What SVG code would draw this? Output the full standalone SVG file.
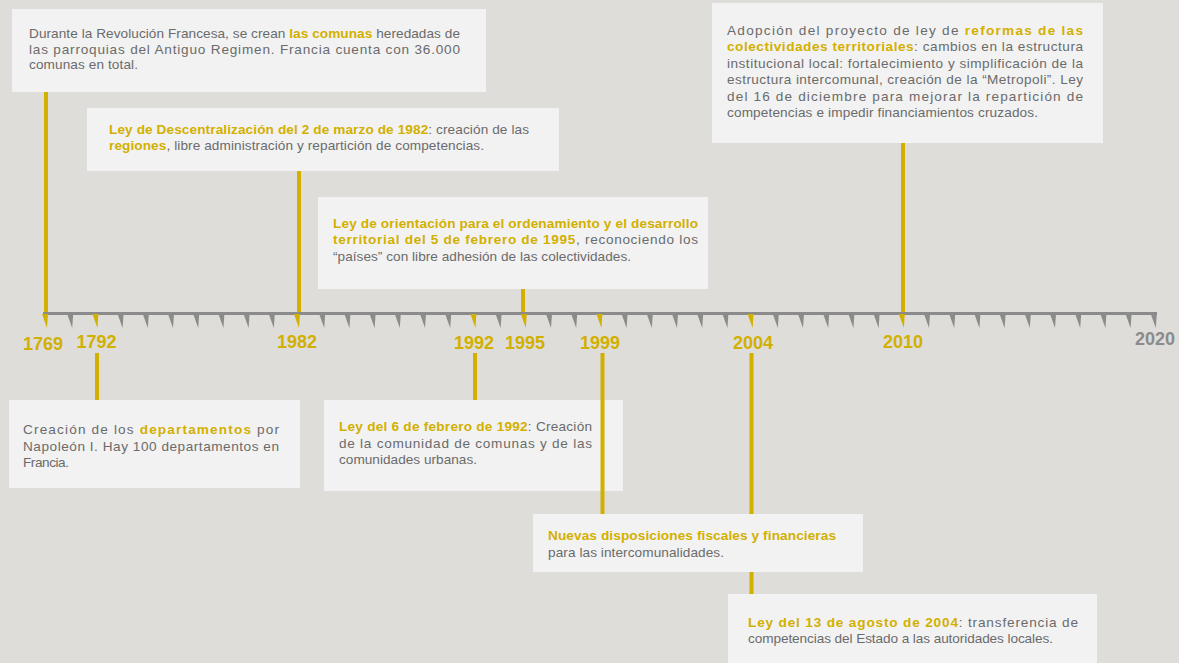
<svg xmlns="http://www.w3.org/2000/svg" width="1179" height="663" viewBox="0 0 1179 663">
<style>
.box{fill:#F2F2F2}
.t{font-family:"Liberation Sans",Arial,sans-serif;font-size:13.6px;fill:#6B6B6B}
.b{font-weight:bold;fill:#D2B000}
.yr{font-family:"Liberation Sans",Arial,sans-serif;font-size:18px;font-weight:bold;fill:#D2B000;text-anchor:middle}
.vl{stroke:#D2B000;stroke-width:4}
.tk{fill:#8B8B8B}
.tky{fill:#D2B000}
</style>
<defs>
<polygon id="tick" points="-4,314 2,314 1,328"/>
</defs>
<rect x="0" y="0" width="1179" height="663" fill="#DEDDD9"/>

<g id="node-1992">
<rect class="box" x="324" y="400" width="299" height="91"/>
<text class="t" x="339" y="431" textLength="253" lengthAdjust="spacing"><tspan class="b">Ley del 6 de febrero de 1992</tspan>: Creación</text>
<text class="t" x="339" y="448" textLength="253" lengthAdjust="spacing">de la comunidad de comunas y de las</text>
<text class="t" x="339" y="464" textLength="138" lengthAdjust="spacing">comunidades urbanas.</text>
</g>

<g id="connectors">
<line class="vl" x1="46" y1="92" x2="46" y2="313"/>
<line class="vl" x1="97" y1="353" x2="97" y2="400"/>
<line class="vl" x1="299" y1="171" x2="299" y2="313"/>
<line class="vl" x1="475" y1="353" x2="475" y2="400"/>
<line class="vl" x1="523" y1="289" x2="523" y2="313"/>
<line class="vl" x1="602.5" y1="353" x2="602.5" y2="514"/>
<line class="vl" x1="751.5" y1="353" x2="751.5" y2="594"/>
<line class="vl" x1="903" y1="143" x2="903" y2="313"/>
</g>

<g id="axis">
<rect x="43" y="312" width="1114" height="3" fill="#8B8B8B"/>
<use href="#tick" class="tky" x="46"/>
<use href="#tick" class="tk" x="71.2"/>
<use href="#tick" class="tky" x="96.4"/>
<use href="#tick" class="tk" x="121.6"/>
<use href="#tick" class="tk" x="146.8"/>
<use href="#tick" class="tk" x="172"/>
<use href="#tick" class="tk" x="197.2"/>
<use href="#tick" class="tk" x="222.4"/>
<use href="#tick" class="tk" x="247.6"/>
<use href="#tick" class="tk" x="272.8"/>
<use href="#tick" class="tky" x="298"/>
<use href="#tick" class="tk" x="323.2"/>
<use href="#tick" class="tk" x="348.4"/>
<use href="#tick" class="tk" x="373.6"/>
<use href="#tick" class="tk" x="398.8"/>
<use href="#tick" class="tk" x="424"/>
<use href="#tick" class="tk" x="449.2"/>
<use href="#tick" class="tky" x="474.4"/>
<use href="#tick" class="tk" x="499.6"/>
<use href="#tick" class="tky" x="524.8"/>
<use href="#tick" class="tk" x="550"/>
<use href="#tick" class="tk" x="575.2"/>
<use href="#tick" class="tky" x="600.4"/>
<use href="#tick" class="tk" x="625.6"/>
<use href="#tick" class="tk" x="650.8"/>
<use href="#tick" class="tk" x="676"/>
<use href="#tick" class="tk" x="701.2"/>
<use href="#tick" class="tk" x="726.4"/>
<use href="#tick" class="tky" x="751.6"/>
<use href="#tick" class="tk" x="776.8"/>
<use href="#tick" class="tk" x="802"/>
<use href="#tick" class="tk" x="827.2"/>
<use href="#tick" class="tk" x="852.4"/>
<use href="#tick" class="tk" x="877.6"/>
<use href="#tick" class="tky" x="902.8"/>
<use href="#tick" class="tk" x="928"/>
<use href="#tick" class="tk" x="953.2"/>
<use href="#tick" class="tk" x="978.4"/>
<use href="#tick" class="tk" x="1003.6"/>
<use href="#tick" class="tk" x="1028.8"/>
<use href="#tick" class="tk" x="1054"/>
<use href="#tick" class="tk" x="1079.2"/>
<use href="#tick" class="tk" x="1104.4"/>
<use href="#tick" class="tk" x="1129.6"/>
<use href="#tick" class="tk" x="1154.8"/>
<text class="yr" x="43" y="350">1769</text>
<text class="yr" x="96.5" y="348">1792</text>
<text class="yr" x="297" y="348">1982</text>
<text class="yr" x="474" y="349">1992</text>
<text class="yr" x="525" y="349">1995</text>
<text class="yr" x="600" y="349">1999</text>
<text class="yr" x="753" y="349">2004</text>
<text class="yr" x="903" y="348">2010</text>
<text class="yr" x="1155" y="345" style="fill:#8B8B8B">2020</text>
</g>

<g id="node-1769">
<rect class="box" x="12" y="9" width="474" height="83"/>
<text class="t" x="29" y="37.5" textLength="431" lengthAdjust="spacing">Durante la Revolución Francesa, se crean <tspan class="b">las comunas</tspan> heredadas de</text>
<text class="t" x="29" y="53.5" textLength="431" lengthAdjust="spacing">las parroquias del Antiguo Regimen. Francia cuenta con 36.000</text>
<text class="t" x="29" y="69" textLength="109" lengthAdjust="spacing">comunas en total.</text>
</g>

<g id="node-1982">
<rect class="box" x="87" y="108" width="472" height="63"/>
<text class="t" x="109" y="133.5" textLength="420" lengthAdjust="spacing"><tspan class="b">Ley de Descentralización del 2 de marzo de 1982</tspan>: creación de las</text>
<text class="t" x="109" y="149.5" textLength="375" lengthAdjust="spacing"><tspan class="b">regiones</tspan>, libre administración y repartición de competencias.</text>
</g>

<g id="node-1995">
<rect class="box" x="318" y="197" width="390" height="92"/>
<text class="t" x="333" y="227.5" textLength="365" lengthAdjust="spacing"><tspan class="b">Ley de orientación para el ordenamiento y el desarrollo</tspan></text>
<text class="t" x="333" y="244" textLength="365" lengthAdjust="spacing"><tspan class="b">territorial del 5 de febrero de 1995</tspan>, reconociendo los</text>
<text class="t" x="333" y="260.5" textLength="298" lengthAdjust="spacing">“países” con libre adhesión de las colectividades.</text>
</g>

<g id="node-2010">
<rect class="box" x="712" y="3" width="391" height="140"/>
<text class="t" x="727" y="34.5" textLength="356" lengthAdjust="spacing">Adopción del proyecto de ley de <tspan class="b">reformas de las</tspan></text>
<text class="t" x="727" y="51" textLength="356" lengthAdjust="spacing"><tspan class="b">colectividades territoriales</tspan>: cambios en la estructura</text>
<text class="t" x="727" y="67.5" textLength="356" lengthAdjust="spacing">institucional local: fortalecimiento y simplificación de la</text>
<text class="t" x="727" y="84" textLength="356" lengthAdjust="spacing">estructura intercomunal, creación de la “Metropoli”. Ley</text>
<text class="t" x="727" y="100.5" textLength="356" lengthAdjust="spacing">del 16 de diciembre para mejorar la repartición de</text>
<text class="t" x="727" y="117" textLength="311" lengthAdjust="spacing">competencias e impedir financiamientos cruzados.</text>
</g>

<g id="node-1792">
<rect class="box" x="9" y="400" width="291" height="88"/>
<text class="t" x="23" y="434" textLength="256" lengthAdjust="spacing">Creación de los <tspan class="b">departamentos</tspan> por</text>
<text class="t" x="23" y="451" textLength="256" lengthAdjust="spacing">Napoleón I. Hay 100 departamentos en</text>
<text class="t" x="23" y="467" textLength="46" lengthAdjust="spacing">Francia.</text>
</g>

<g id="node-1999">
<rect class="box" x="533" y="514" width="330" height="58"/>
<text class="t" x="548" y="540" textLength="288" lengthAdjust="spacing"><tspan class="b">Nuevas disposiciones fiscales y financieras</tspan></text>
<text class="t" x="548" y="557" textLength="176" lengthAdjust="spacing">para las intercomunalidades.</text>
</g>

<g id="node-2004">
<rect class="box" x="728" y="594" width="369" height="75"/>
<text class="t" x="748" y="627" textLength="330" lengthAdjust="spacing"><tspan class="b">Ley del 13 de agosto de 2004</tspan>: transferencia de</text>
<text class="t" x="748" y="643" textLength="305" lengthAdjust="spacing">competencias del Estado a las autoridades locales.</text>
</g>
</svg>
